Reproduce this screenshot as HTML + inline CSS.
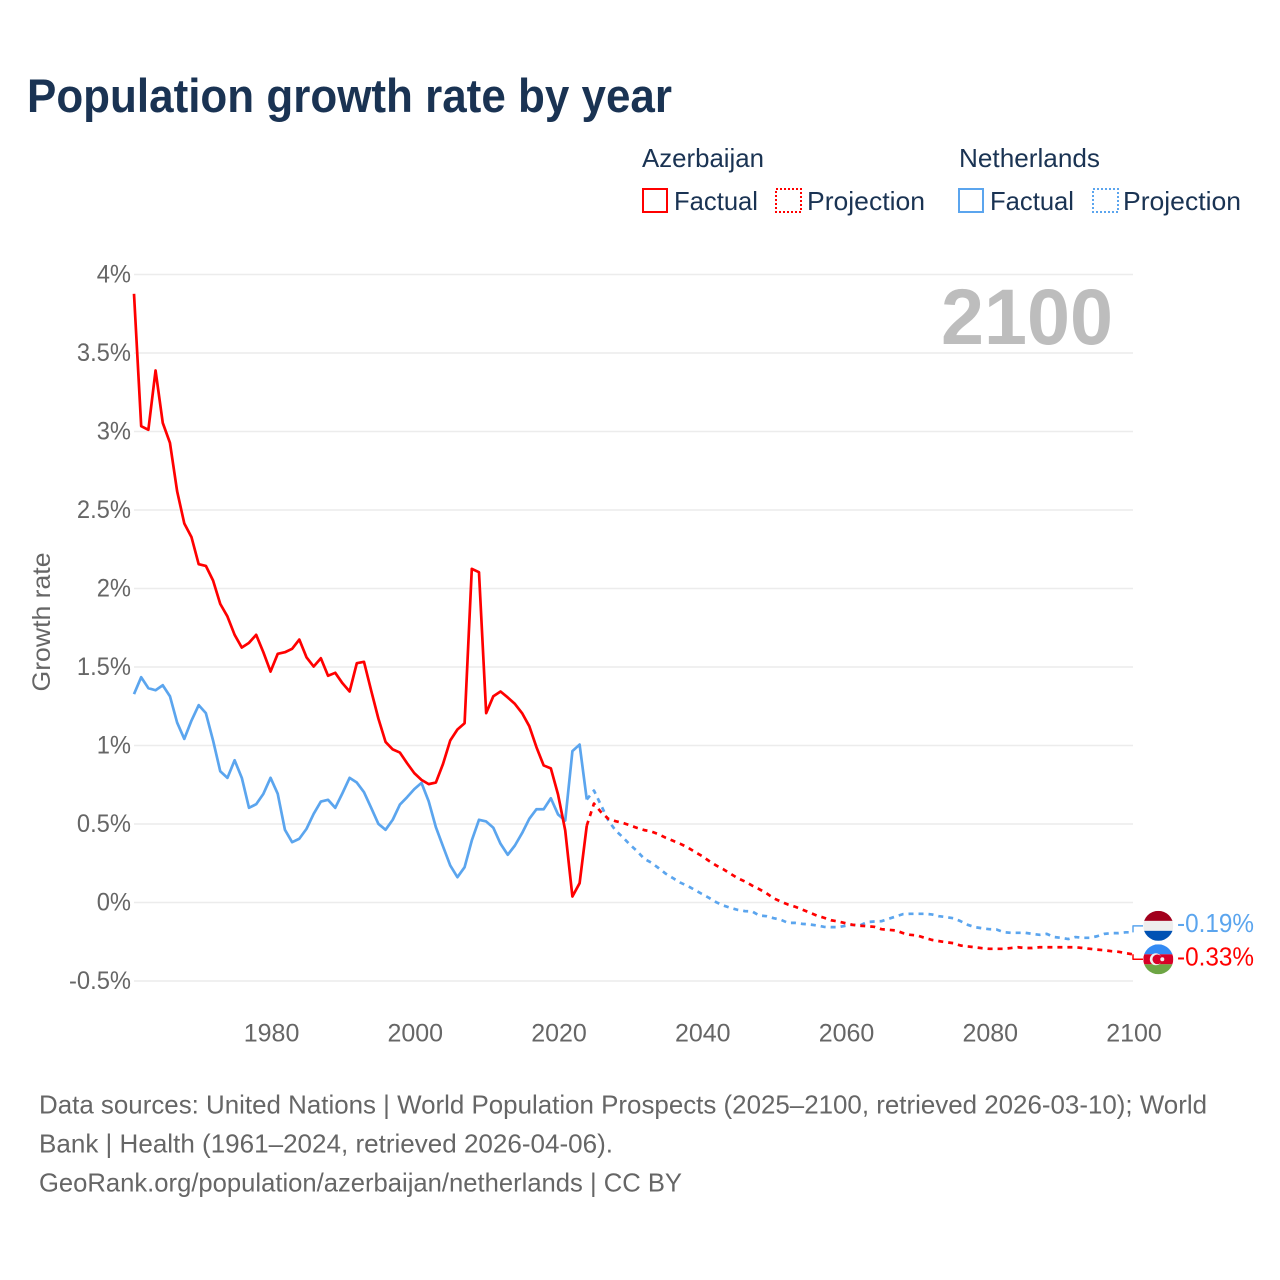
<!DOCTYPE html>
<html lang="en">
<head>
<meta charset="utf-8">
<title>Population growth rate by year</title>
<style>
html,body{margin:0;padding:0;background:#fff;}
svg{display:block;font-family:"Liberation Sans",sans-serif;}
</style>
</head>
<body>
<svg id="chart" xmlns="http://www.w3.org/2000/svg" width="1280" height="1280" viewBox="0 0 1280 1280">
  <rect width="1280" height="1280" fill="#fff"/>
  <text x="27" y="112" font-size="47" font-weight="700" fill="#1a3353" textLength="645" lengthAdjust="spacingAndGlyphs">Population growth rate by year</text>

  <g font-size="26" fill="#1a3353">
    <text x="642" y="167" textLength="122" lengthAdjust="spacingAndGlyphs">Azerbaijan</text>
    <text x="959" y="167" textLength="141" lengthAdjust="spacingAndGlyphs">Netherlands</text>
    <g>
      <rect x="643" y="189" width="24" height="23" fill="none" stroke="#ff0000" stroke-width="2"/>
      <text x="674" y="210" textLength="84" lengthAdjust="spacingAndGlyphs">Factual</text>
    </g>
    <g>
      <rect x="776" y="189" width="25" height="23" fill="none" stroke="#ff0000" stroke-width="2" stroke-dasharray="2 2"/>
      <text x="807" y="210" textLength="118" lengthAdjust="spacingAndGlyphs">Projection</text>
    </g>
    <g>
      <rect x="959" y="189" width="24" height="23" fill="none" stroke="#5ba5ee" stroke-width="2"/>
      <text x="990" y="210" textLength="84" lengthAdjust="spacingAndGlyphs">Factual</text>
    </g>
    <g>
      <rect x="1093" y="189" width="25" height="23" fill="none" stroke="#5ba5ee" stroke-width="2" stroke-dasharray="2 2"/>
      <text x="1123" y="210" textLength="118" lengthAdjust="spacingAndGlyphs">Projection</text>
    </g>
  </g>

  <text transform="translate(50 622) rotate(-90)" text-anchor="middle" font-size="25" fill="#666" textLength="139" lengthAdjust="spacingAndGlyphs">Growth rate</text>

  <g id="grid"></g>
  <g id="yticks" font-size="25" fill="#666" text-anchor="end"></g>
  <g id="xticks" font-size="25" fill="#666" text-anchor="middle"></g>

  <text x="1113" y="344" text-anchor="end" font-size="79" font-weight="700" fill="#bdbdbd" textLength="172" lengthAdjust="spacingAndGlyphs">2100</text>

  <g id="series" fill="none" stroke-linejoin="round"></g>

  <defs>
    <clipPath id="nl-clip"><circle cx="0" cy="0" r="15"/></clipPath>
    <clipPath id="az-clip"><circle cx="0" cy="0" r="15"/></clipPath>
  </defs>
  <g id="flag-nl" clip-path="url(#nl-clip)">
    <rect x="-15" y="-15" width="30" height="30" fill="#eeeeee"/>
    <rect x="-15" y="-15" width="30" height="10" fill="#a2001d"/>
    <rect x="-15" y="5" width="30" height="10" fill="#0052b4"/>
  </g>
  <g id="flag-az" clip-path="url(#az-clip)">
    <rect x="-15" y="-15" width="30" height="10" fill="#338af3"/>
    <rect x="-15" y="-5" width="30" height="10" fill="#d80027"/>
    <rect x="-15" y="5" width="30" height="10" fill="#6da544"/>
    <circle cx="-2.5" cy="0" r="6" fill="#f0f0f0"/>
    <circle cx="-1" cy="0" r="4.8" fill="#d80027"/>
    <circle cx="4" cy="0" r="2" fill="#f0f0f0"/>
  </g>
  <text id="label-nl" x="1177" font-size="26" fill="#5ba5ee" textLength="77" lengthAdjust="spacingAndGlyphs"></text>
  <text id="label-az" x="1177" font-size="26" fill="#ff0000" textLength="77" lengthAdjust="spacingAndGlyphs"></text>

  <g font-size="26" fill="#666">
    <text x="39" y="1113.5" textLength="1168" lengthAdjust="spacingAndGlyphs">Data sources: United Nations | World Population Prospects (2025–2100, retrieved 2026-03-10); World</text>
    <text x="39" y="1152.5" textLength="574" lengthAdjust="spacingAndGlyphs">Bank | Health (1961–2024, retrieved 2026-04-06).</text>
    <text x="39" y="1191.5" textLength="643" lengthAdjust="spacingAndGlyphs">GeoRank.org/population/azerbaijan/netherlands | CC BY</text>
  </g>
</svg>
<script>
const yTickValues = [-0.5, 0, 0.5, 1, 1.5, 2, 2.5, 3, 3.5, 4];
const xTickYears = [1980, 2000, 2020, 2040, 2060, 2080, 2100];
const factualStartYear = 1961;
const projectionStartYear = 2024;

const azFactual = [3.877,3.034,3.011,3.389,3.055,2.928,2.62,2.414,2.327,2.155,2.144,2.051,1.902,1.822,1.705,1.624,1.654,1.705,1.594,1.471,1.584,1.594,1.616,1.675,1.562,1.503,1.556,1.444,1.463,1.397,1.344,1.524,1.533,1.35,1.172,1.023,0.975,0.955,0.887,0.824,0.781,0.754,0.764,0.883,1.032,1.102,1.142,2.125,2.104,1.206,1.314,1.344,1.306,1.265,1.206,1.123,0.989,0.873,0.854,0.688,0.459,0.038,0.123,0.49];
const nlFactual = [1.327,1.435,1.365,1.352,1.384,1.314,1.146,1.042,1.159,1.257,1.206,1.032,0.836,0.794,0.906,0.794,0.603,0.626,0.692,0.794,0.692,0.463,0.384,0.406,0.469,0.565,0.643,0.654,0.603,0.696,0.794,0.764,0.703,0.603,0.501,0.463,0.527,0.624,0.671,0.722,0.762,0.645,0.48,0.357,0.236,0.161,0.225,0.395,0.527,0.516,0.476,0.374,0.304,0.363,0.442,0.533,0.594,0.594,0.664,0.561,0.522,0.964,1.006,0.656];
const azProjection = [0.49,0.63,0.575,0.533,0.518,0.507,0.492,0.475,0.461,0.452,0.435,0.412,0.393,0.374,0.352,0.323,0.297,0.265,0.236,0.212,0.183,0.155,0.134,0.108,0.085,0.059,0.027,0.006,-0.013,-0.027,-0.045,-0.064,-0.083,-0.097,-0.113,-0.121,-0.132,-0.142,-0.148,-0.151,-0.155,-0.17,-0.174,-0.178,-0.195,-0.206,-0.21,-0.225,-0.238,-0.246,-0.253,-0.259,-0.274,-0.28,-0.285,-0.291,-0.295,-0.295,-0.295,-0.29,-0.285,-0.29,-0.29,-0.285,-0.285,-0.285,-0.285,-0.285,-0.285,-0.29,-0.295,-0.3,-0.304,-0.31,-0.314,-0.323,-0.33];
const nlProjection = [0.656,0.713,0.618,0.522,0.459,0.416,0.369,0.327,0.278,0.253,0.219,0.183,0.155,0.127,0.106,0.081,0.055,0.03,0.002,-0.019,-0.034,-0.047,-0.055,-0.057,-0.083,-0.087,-0.1,-0.11,-0.13,-0.13,-0.136,-0.14,-0.146,-0.155,-0.157,-0.157,-0.148,-0.142,-0.146,-0.125,-0.121,-0.119,-0.104,-0.089,-0.074,-0.072,-0.072,-0.072,-0.076,-0.087,-0.093,-0.1,-0.119,-0.142,-0.157,-0.164,-0.17,-0.172,-0.189,-0.193,-0.193,-0.193,-0.2,-0.206,-0.2,-0.22,-0.225,-0.233,-0.22,-0.225,-0.225,-0.215,-0.2,-0.195,-0.195,-0.19,-0.19];

const SVGNS = 'http://www.w3.org/2000/svg';
const plotLeft = 134, plotRight = 1133, domainStart = 1961, domainEnd = 2100;
function xScale(year) {
  return plotLeft + (year - domainStart) * (plotRight - plotLeft) / (domainEnd - domainStart);
}
function yScale(value) {
  return 902.5 - value * 157;
}
function pathFrom(values, startYear) {
  return values.map(function (v, i) {
    return (i ? 'L' : 'M') + xScale(startYear + i).toFixed(2) + ' ' + yScale(v).toFixed(2);
  }).join(' ');
}
function make(tag, parent) {
  const el = document.createElementNS(SVGNS, tag);
  parent.appendChild(el);
  return el;
}

const grid = document.getElementById('grid');
const yticks = document.getElementById('yticks');
const xticks = document.getElementById('xticks');
const series = document.getElementById('series');

yTickValues.forEach(function (v) {
  const line = make('line', grid);
  
  
  line.setAttribute('x1', plotLeft);
  line.setAttribute('x2', plotRight);
  line.setAttribute('y1', yScale(v));
  line.setAttribute('y2', yScale(v));
  line.setAttribute('stroke', '#ececec');
  line.setAttribute('stroke-width', '1.5');
  const t = make('text', yticks);
  
  
  t.setAttribute('x', 131);
  t.setAttribute('y', yScale(v) + 8);
  t.textContent = v + '%';
  t.setAttribute('textLength', (t.getComputedTextLength() * 0.95).toFixed(1));
  t.setAttribute('lengthAdjust', 'spacingAndGlyphs');
});

xTickYears.forEach(function (year) {
  const t = make('text', xticks);
  
  
  t.setAttribute('x', xScale(year) + 1);
  t.setAttribute('y', 1041.5);
  t.textContent = year;
});

function drawLine(values, startYear, color, dashed, name) {
  const p = make('path', series);
  
  
  p.setAttribute('d', pathFrom(values, startYear));
  p.setAttribute('stroke', color);
  p.setAttribute('stroke-width', '2.7');
  if (dashed) {
    p.setAttribute('stroke-dasharray', '5 5');
  }
}
drawLine(nlFactual, factualStartYear, '#5ba5ee', false, 'netherlands-factual-line');
drawLine(azFactual, factualStartYear, '#ff0000', false, 'azerbaijan-factual-line');
drawLine(nlProjection, projectionStartYear, '#5ba5ee', true, 'netherlands-projection-line');
drawLine(azProjection, projectionStartYear, '#ff0000', true, 'azerbaijan-projection-line');

function drawEnd(values, color, labelId, flagId, offset, name) {
  const last = values[values.length - 1];
  const yEnd = yScale(last);
  const yLabel = yEnd + offset;
  const c = make('path', series);
  
  
  c.setAttribute('d', 'M' + plotRight + ' ' + yEnd + ' V' + yLabel + ' H1143');
  c.setAttribute('stroke', color);
  c.setAttribute('stroke-width', '1.5');
  const label = document.getElementById(labelId);
  label.setAttribute('y', yLabel + 6);
  label.textContent = last.toFixed(2) + '%';
  document.getElementById(flagId).setAttribute('transform', 'translate(1158.3 ' + yLabel + ')');
}
drawEnd(nlProjection, '#5ba5ee', 'label-nl', 'flag-nl', -6.5, 'netherlands-end-connector');
drawEnd(azProjection, '#ff0000', 'label-az', 'flag-az', 5, 'azerbaijan-end-connector');
</script>
</body>
</html>
